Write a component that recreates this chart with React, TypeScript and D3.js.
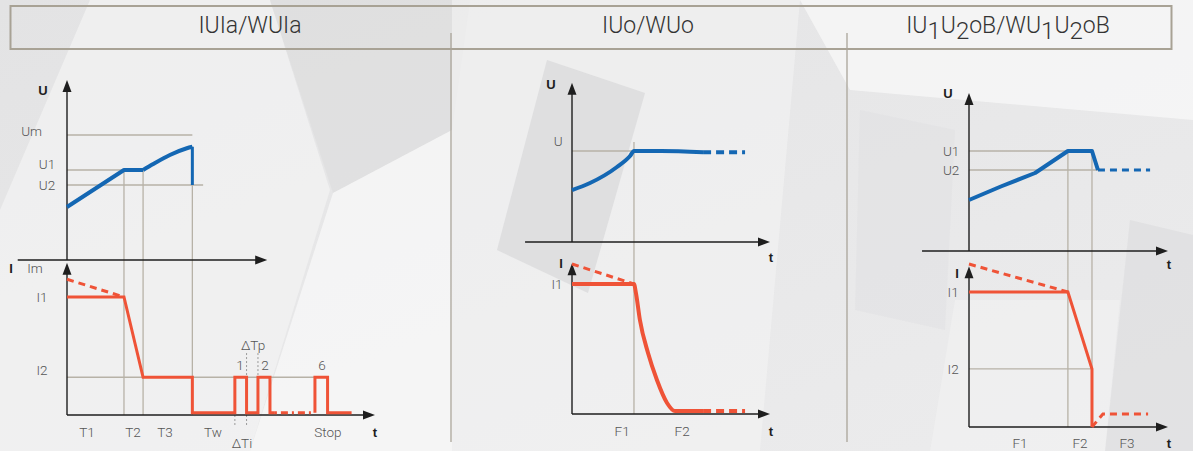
import React from 'react';
import * as d3 from 'd3';

type Pt = [number, number];

// ---------- Titles ----------
const titles = ['IUIa/WUIa', 'IUo/WUo', 'IU1U2oB/WU1U2oB'];

// ---------- Panel 1: IUIa/WUIa ----------
const p1Levels = { Um: 10, U1: 7.2, U2: 6.0, I1: 10, I2: 3.2, Im: 11.5 };
const p1Times = { T2: 18.5, T3: 24.7, End: 40.7 };
const p1Voltage: Pt[] = [[0, 4.24], [18.5, 7.2], [24.7, 7.2]];
const p1VoltageArc: Pt[] = [[24.7, 7.2], [28, 7.68], [33.4, 8.4], [38.9, 8.94], [40.7, 9.06]];
const p1VoltageDrop: Pt[] = [[40.7, 9.06], [40.7, 6.0]];
const p1CurrentDash: Pt[] = [[0, 11.5], [18.5, 10]];
const p1Current: Pt[] = [
  [0, 10], [18.5, 10], [24.7, 3.2], [40.7, 3.2], [40.7, 0.2], [54.5, 0.2], [54.5, 3.2],
  [58.3, 3.2], [58.3, 0.2], [62, 0.2], [62, 3.2], [65.9, 3.2], [65.9, 0.2], [67.5, 0.2],
];
const p1CurrentGap: Pt[] = [[67.5, 0.2], [80.5, 0.2]];
const p1CurrentTail: Pt[] = [[80.5, 0.2], [80.5, 3.2], [84.6, 3.2], [84.6, 0.2], [92.4, 0.2]];
const p1TimeLabels = ['T1', 'T2', 'T3', 'Tw', 'Stop'];
const p1TimeLabelPos = [6.5, 21.4, 31.8, 47.4, 84.7];
const p1PulseLabels = ['1', '2', '6'];
const p1PulseLabelPos = [56.2, 64.3, 82.8];
const p1DeltaTp = [58.3, 62];
const p1DeltaTi = [54.5, 58.3];

// ---------- Panel 2: IUo/WUo ----------
const p2Levels = { U: 10, I1: 10, Start: 11.54 };
const p2Times = { F1: 31.3 };
const p2Voltage: Pt[] = [[0, 5.7], [9.1, 6.48], [22.7, 8.24], [29.3, 9.45], [31.3, 10], [45, 10], [66.2, 9.85]];
const p2VoltageDash: Pt[] = [[66.2, 9.85], [87.4, 9.85]];
const p2CurrentDash: Pt[] = [[0, 11.54], [31.3, 10]];
const p2Current: Pt[] = [[0, 10], [31.3, 10], [32.3, 9.3], [34.3, 7.23], [38.4, 4.69], [42.9, 2.62], [48, 0.85], [52, 0.23], [66.2, 0.23]];
const p2CurrentTail: Pt[] = [[66.2, 0.23], [87.4, 0.23]];
const p2TimeLabels = ['F1', 'F2'];
const p2TimeLabelPos = [25.3, 55.6];

// ---------- Panel 3: IU1U2oB/WU1U2oB ----------
const p3Levels = { U1: 10, U2: 8.1, I1: 10, I2: 4.3, Start: 12.07 };
const p3Times = { F1: 49.7, F2: 61.8, U2: 64.8 };
const p3Voltage: Pt[] = [[0, 5.1], [16, 6.45], [33.2, 7.8], [49.7, 10], [61.8, 10], [64.8, 8.1]];
const p3VoltageDash: Pt[] = [[64.8, 8.1], [91, 8.1]];
const p3CurrentDash: Pt[] = [[0, 12.07], [49.7, 10]];
const p3Current: Pt[] = [[0, 10], [49.7, 10], [61.8, 4.3], [61.8, 0]];
const p3CurrentTail: Pt[] = [[61.8, 0], [67.3, 0.96], [90, 0.96]];
const p3TimeLabels = ['F1', 'F2', 'F3'];
const p3TimeLabelPos = [25.6, 55.8, 79.4];

// ---------- Styles ----------
const BLUE = '#1467b3';
const RED = '#ef5337';
const GRID = '#b7b2a7';
const AXIS = '#1e1e1e';
const LABEL = '#555';
const FONT = 'Roboto, "Liberation Sans", sans-serif';
const BOLD = '"Liberation Sans", Arial, sans-serif';

const W = 1193;
const H = 451;

function ArrowUp({ x, y }: { x: number; y: number }) {
  return <path d={`M${x},${y} L${x - 4.5},${y + 12} L${x + 4.5},${y + 12} Z`} fill={AXIS} />;
}
function ArrowRight({ x, y }: { x: number; y: number }) {
  return <path d={`M${x},${y} L${x - 12},${y - 4.5} L${x - 12},${y + 4.5} Z`} fill={AXIS} />;
}

function Label({ x, y, text, size = 13.5, anchor = 'middle' }: any) {
  return (
    <text x={x} y={y} fontFamily={FONT} fontWeight={300} fontSize={size} fill={LABEL}
      textAnchor={anchor} dominantBaseline="central">{text}</text>
  );
}
function AxisLetter({ x, y, text }: any) {
  return (
    <text x={x} y={y} fontFamily={BOLD} fontWeight={700} fontSize={13} fill={AXIS}
      textAnchor="middle" dominantBaseline="central">{text}</text>
  );
}

type Cfg = {
  xr: [number, number]; ur: [number, number]; ir: [number, number];
  uMax: number; iMax: number; uMinT: number; uMaxT: number;
};

function makeScales(c: Cfg) {
  const x = d3.scaleLinear().domain([0, 100]).range(c.xr);
  const u = d3.scaleLinear().domain([0, 10]).range(c.ur);
  const i = d3.scaleLinear().domain([0, 10]).range(c.ir);
  return { x, u, i };
}

function Axes({ c, x, u, i }: any) {
  const x0 = x(0);
  return (
    <g>
      <line x1={x(c.uMinT)} x2={x(c.uMaxT) - 10} y1={u(0)} y2={u(0)} stroke={AXIS} strokeWidth={1.4} />
      <ArrowRight x={x(c.uMaxT)} y={u(0)} />
      <line x1={x0} x2={x(100) - 10} y1={i(0)} y2={i(0)} stroke={AXIS} strokeWidth={1.4} />
      <ArrowRight x={x(100)} y={i(0)} />
      <line x1={x0} x2={x0} y1={u(0)} y2={u(c.uMax) + 10} stroke={AXIS} strokeWidth={1.4} />
      <ArrowUp x={x0} y={u(c.uMax)} />
      <line x1={x0} x2={x0} y1={i(0)} y2={i(c.iMax) + 10} stroke={AXIS} strokeWidth={1.4} />
      <ArrowUp x={x0} y={i(c.iMax)} />
    </g>
  );
}

function bgShapes() {
  const polys: { pts: Pt[]; fill: string; op: number }[] = [
    { pts: [[90, 0], [270, 0], [330, 190], [250, 451], [0, 451], [0, 210]], fill: '#f3f3f3', op: 0.7 },
    { pts: [[270, 0], [470, 0], [452, 130], [333, 193]], fill: '#d9d9da', op: 0.45 },
    { pts: [[333, 193], [452, 130], [452, 451], [250, 451]], fill: '#f7f7f7', op: 0.8 },
    { pts: [[452, 0], [800, 0], [760, 451], [452, 451]], fill: '#f4f4f4', op: 0.6 },
    { pts: [[547, 60], [645, 93], [588, 293], [497, 250]], fill: '#cfcfd1', op: 0.5 },
    { pts: [[800, 0], [1193, 0], [1193, 120], [850, 90]], fill: '#fafafa', op: 0.7 },
    { pts: [[860, 110], [955, 130], [945, 330], [855, 310]], fill: '#dcdcdd', op: 0.3 },
    { pts: [[1130, 220], [1193, 235], [1193, 451], [1105, 451]], fill: '#d8d8d9', op: 0.45 },
    { pts: [[955, 300], [1120, 300], [1105, 451], [930, 451]], fill: '#f4f4f4', op: 0.5 },
  ];
  return polys.map((p, k) => (
    <polygon key={k} points={p.pts.map((q) => q.join(',')).join(' ')} fill={p.fill} opacity={p.op} />
  ));
}

export default function App() {
  // Panel 1
  const c1: Cfg = { xr: [67, 375], ur: [260, 135], ir: [415, 297], uMax: 14.4, iMax: 12.9, uMinT: -16, uMaxT: 65 };
  const s1 = makeScales(c1);
  const l1u = d3.line<Pt>().x((d) => s1.x(d[0])).y((d) => s1.u(d[1]));
  const l1uArc = d3.line<Pt>().x((d) => s1.x(d[0])).y((d) => s1.u(d[1])).curve(d3.curveMonotoneX);
  const l1i = d3.line<Pt>().x((d) => s1.x(d[0])).y((d) => s1.i(d[1]));

  // Panel 2
  const c2: Cfg = { xr: [572, 770], ur: [242, 151], ir: [414, 284], uMax: 17.5, iMax: 11.6, uMinT: -23.7, uMaxT: 100 };
  const s2 = makeScales(c2);
  const l2u = d3.line<Pt>().x((d) => s2.x(d[0])).y((d) => s2.u(d[1])).curve(d3.curveMonotoneX);
  const l2uL = d3.line<Pt>().x((d) => s2.x(d[0])).y((d) => s2.u(d[1]));
  const l2i = d3.line<Pt>().x((d) => s2.x(d[0])).y((d) => s2.i(d[1])).curve(d3.curveMonotoneX);
  const l2iL = d3.line<Pt>().x((d) => s2.x(d[0])).y((d) => s2.i(d[1]));

  // Panel 3
  const c3: Cfg = { xr: [969, 1168], ur: [251, 151], ir: [427, 292], uMax: 15.8, iMax: 11.9, uMinT: -23.6, uMaxT: 100 };
  const s3 = makeScales(c3);
  const l3u = d3.line<Pt>().x((d) => s3.x(d[0])).y((d) => s3.u(d[1]));
  const l3i = d3.line<Pt>().x((d) => s3.x(d[0])).y((d) => s3.i(d[1]));

  const gl = { stroke: GRID, strokeWidth: 1.3 };
  const titleX = [250, 648, 1008];

  return (
    <svg width={W} height={H} style={{ position: 'absolute', left: 0, top: 0 }}>
      <defs>
        <linearGradient id="bg" x1="0" y1="0" x2="1" y2="1">
          <stop offset="0" stopColor="#e3e3e4" />
          <stop offset="1" stopColor="#ececed" />
        </linearGradient>
      </defs>
      <rect width={W} height={H} fill="url(#bg)" />
      {bgShapes()}

      {/* header */}
      <rect x={10.5} y={6} width={1161} height={43} fill="none" stroke="#a8a295" strokeWidth={2} />
      <line x1={451} x2={451} y1={33} y2={442} stroke="#aaa59a" strokeWidth={1.3} />
      <line x1={847} x2={847} y1={33} y2={442} stroke="#aaa59a" strokeWidth={1.3} />
      <text x={titleX[0]} y={33} fontFamily={FONT} fontWeight={300} fontSize={23} fill="#333" textAnchor="middle">{titles[0]}</text>
      <text x={titleX[1]} y={33} fontFamily={FONT} fontWeight={300} fontSize={23} fill="#333" textAnchor="middle">{titles[1]}</text>
      <text x={titleX[2]} y={33} fontFamily={FONT} fontWeight={300} fontSize={23} fill="#333" textAnchor="middle">
        {titles[2].split(/([12])/).filter((s) => s !== '').map((s, k) =>
          /[12]/.test(s)
            ? <tspan key={k} dy={6} fontSize={24}>{s}</tspan>
            : <tspan key={k} dy={k === 0 ? 0 : -6}>{s}</tspan>
        )}
      </text>

      {/* ---------- Panel 1 ---------- */}
      <g>
        <line x1={s1.x(0)} x2={s1.x(p1Times.End)} y1={s1.u(p1Levels.Um)} y2={s1.u(p1Levels.Um)} {...gl} />
        <line x1={s1.x(0)} x2={s1.x(p1Times.T3)} y1={s1.u(p1Levels.U1)} y2={s1.u(p1Levels.U1)} {...gl} />
        <line x1={s1.x(0)} x2={s1.x(44.2)} y1={s1.u(p1Levels.U2)} y2={s1.u(p1Levels.U2)} {...gl} />
        <line x1={s1.x(p1Times.T2)} x2={s1.x(p1Times.T2)} y1={s1.u(p1Levels.U1)} y2={s1.i(0)} {...gl} />
        <line x1={s1.x(p1Times.T3)} x2={s1.x(p1Times.T3)} y1={s1.u(p1Levels.U1)} y2={s1.i(0)} {...gl} />
        <line x1={s1.x(p1Times.End)} x2={s1.x(p1Times.End)} y1={s1.u(9.06)} y2={s1.i(0)} {...gl} />
        <line x1={s1.x(0)} x2={s1.x(80.5)} y1={s1.i(p1Levels.I2)} y2={s1.i(p1Levels.I2)} {...gl} />
        {p1DeltaTp.map((t, k) => (
          <line key={'tp' + k} x1={s1.x(t)} x2={s1.x(t)} y1={s1.i(5.25)} y2={s1.i(p1Levels.I2)} stroke="#999" strokeWidth={1} strokeDasharray="2 2" />
        ))}
        {p1DeltaTi.map((t, k) => (
          <line key={'ti' + k} x1={s1.x(t)} x2={s1.x(t)} y1={s1.i(0)} y2={s1.i(-1.0)} stroke="#999" strokeWidth={1} strokeDasharray="2 2" />
        ))}
        <Axes c={c1} {...s1} />
        <path d={l1u(p1Voltage)!} fill="none" stroke={BLUE} strokeWidth={4} strokeLinejoin="round" />
        <path d={l1uArc(p1VoltageArc)!} fill="none" stroke={BLUE} strokeWidth={4} />
        <path d={l1u(p1VoltageDrop)!} fill="none" stroke={BLUE} strokeWidth={3} />
        <path d={l1i(p1CurrentDash)!} fill="none" stroke={RED} strokeWidth={3} strokeDasharray="7 5" />
        <path d={l1i(p1Current)!} fill="none" stroke={RED} strokeWidth={3} />
        <path d={l1i(p1CurrentGap)!} fill="none" stroke={RED} strokeWidth={3} strokeDasharray="2 4 7 4" />
        <path d={l1i(p1CurrentTail)!} fill="none" stroke={RED} strokeWidth={3} />

        <AxisLetter x={43} y={s1.u(13.6)} text="U" />
        <AxisLetter x={11} y={268} text="I" />
        <Label x={s1.x(-11.5)} y={s1.u(p1Levels.Um) - 4} text="Um" />
        <Label x={s1.x(-6.5)} y={s1.u(p1Levels.U1) - 6} text="U1" />
        <Label x={s1.x(-6.5)} y={s1.u(p1Levels.U2)} text="U2" />
        <Label x={s1.x(-10.4)} y={268} text="Im" />
        <Label x={s1.x(-8.1)} y={s1.i(p1Levels.I1)} text="I1" />
        <Label x={s1.x(-8.1)} y={s1.i(p1Levels.I2) - 7} text="I2" />
        {p1TimeLabels.map((t, k) => (
          <Label key={t} x={s1.x(p1TimeLabelPos[k])} y={432} text={t} />
        ))}
        <AxisLetter x={s1.x(100)} y={432} text="t" />
        <Label x={s1.x(56.8)} y={443} text="ΔTi" />
        <Label x={s1.x(60.4)} y={345} text="ΔTp" />
        {p1PulseLabels.map((t, k) => (
          <Label key={'p' + t} x={s1.x(p1PulseLabelPos[k])} y={365} text={t} />
        ))}
      </g>

      {/* ---------- Panel 2 ---------- */}
      <g>
        <line x1={s2.x(0)} x2={s2.x(p2Times.F1)} y1={s2.u(p2Levels.U)} y2={s2.u(p2Levels.U)} {...gl} />
        <line x1={s2.x(p2Times.F1)} x2={s2.x(p2Times.F1)} y1={s2.u(11)} y2={s2.i(0)} {...gl} />
        <Axes c={c2} {...s2} />
        <path d={l2u(p2Voltage)!} fill="none" stroke={BLUE} strokeWidth={4} />
        <path d={l2uL(p2VoltageDash)!} fill="none" stroke={BLUE} strokeWidth={4} strokeDasharray="8 5" />
        <path d={l2iL(p2CurrentDash)!} fill="none" stroke={RED} strokeWidth={3} strokeDasharray="7 5" />
        <path d={l2i(p2Current)!} fill="none" stroke={RED} strokeWidth={4} />
        <path d={l2iL(p2CurrentTail)!} fill="none" stroke={RED} strokeWidth={4} strokeDasharray="8 5" />

        <AxisLetter x={551} y={s2.u(17.3)} text="U" />
        <AxisLetter x={561} y={263} text="I" />
        <Label x={s2.x(-7)} y={s2.u(p2Levels.U) - 10} text="U" />
        <Label x={s2.x(-7.6)} y={s2.i(p2Levels.I1)} text="I1" />
        <AxisLetter x={s2.x(100.5)} y={257} text="t" />
        <AxisLetter x={s2.x(100.5)} y={431} text="t" />
        {p2TimeLabels.map((t, k) => (
          <Label key={t} x={s2.x(p2TimeLabelPos[k])} y={431} text={t} />
        ))}
      </g>

      {/* ---------- Panel 3 ---------- */}
      <g>
        <line x1={s3.x(0)} x2={s3.x(p3Times.F2)} y1={s3.u(p3Levels.U1)} y2={s3.u(p3Levels.U1)} {...gl} />
        <line x1={s3.x(0)} x2={s3.x(p3Times.U2)} y1={s3.u(p3Levels.U2)} y2={s3.u(p3Levels.U2)} {...gl} />
        <line x1={s3.x(p3Times.F1)} x2={s3.x(p3Times.F1)} y1={s3.u(p3Levels.U1)} y2={s3.i(0)} {...gl} />
        <line x1={s3.x(p3Times.F2)} x2={s3.x(p3Times.F2)} y1={s3.u(p3Levels.U1)} y2={s3.i(0)} {...gl} />
        <line x1={s3.x(0)} x2={s3.x(p3Times.F2)} y1={s3.i(p3Levels.I2)} y2={s3.i(p3Levels.I2)} {...gl} />
        <Axes c={c3} {...s3} />
        <path d={l3u(p3Voltage)!} fill="none" stroke={BLUE} strokeWidth={4} strokeLinejoin="round" />
        <path d={l3u(p3VoltageDash)!} fill="none" stroke={BLUE} strokeWidth={3} strokeDasharray="7 5" />
        <path d={l3i(p3CurrentDash)!} fill="none" stroke={RED} strokeWidth={3} strokeDasharray="7 5" />
        <path d={l3i(p3Current)!} fill="none" stroke={RED} strokeWidth={3} />
        <path d={l3i(p3CurrentTail)!} fill="none" stroke={RED} strokeWidth={3} strokeDasharray="7 5" />

        <AxisLetter x={948} y={s3.u(15.8)} text="U" />
        <AxisLetter x={957} y={273} text="I" />
        <Label x={s3.x(-9)} y={s3.u(p3Levels.U1)} text="U1" />
        <Label x={s3.x(-9)} y={s3.u(p3Levels.U2)} text="U2" />
        <Label x={s3.x(-8)} y={s3.i(p3Levels.I1)} text="I1" />
        <Label x={s3.x(-8)} y={s3.i(p3Levels.I2)} text="I2" />
        <AxisLetter x={s3.x(100.5)} y={264} text="t" />
        <AxisLetter x={s3.x(100.5)} y={443} text="t" />
        {p3TimeLabels.map((t, k) => (
          <Label key={t} x={s3.x(p3TimeLabelPos[k])} y={443} text={t} />
        ))}
      </g>
    </svg>
  );
}
